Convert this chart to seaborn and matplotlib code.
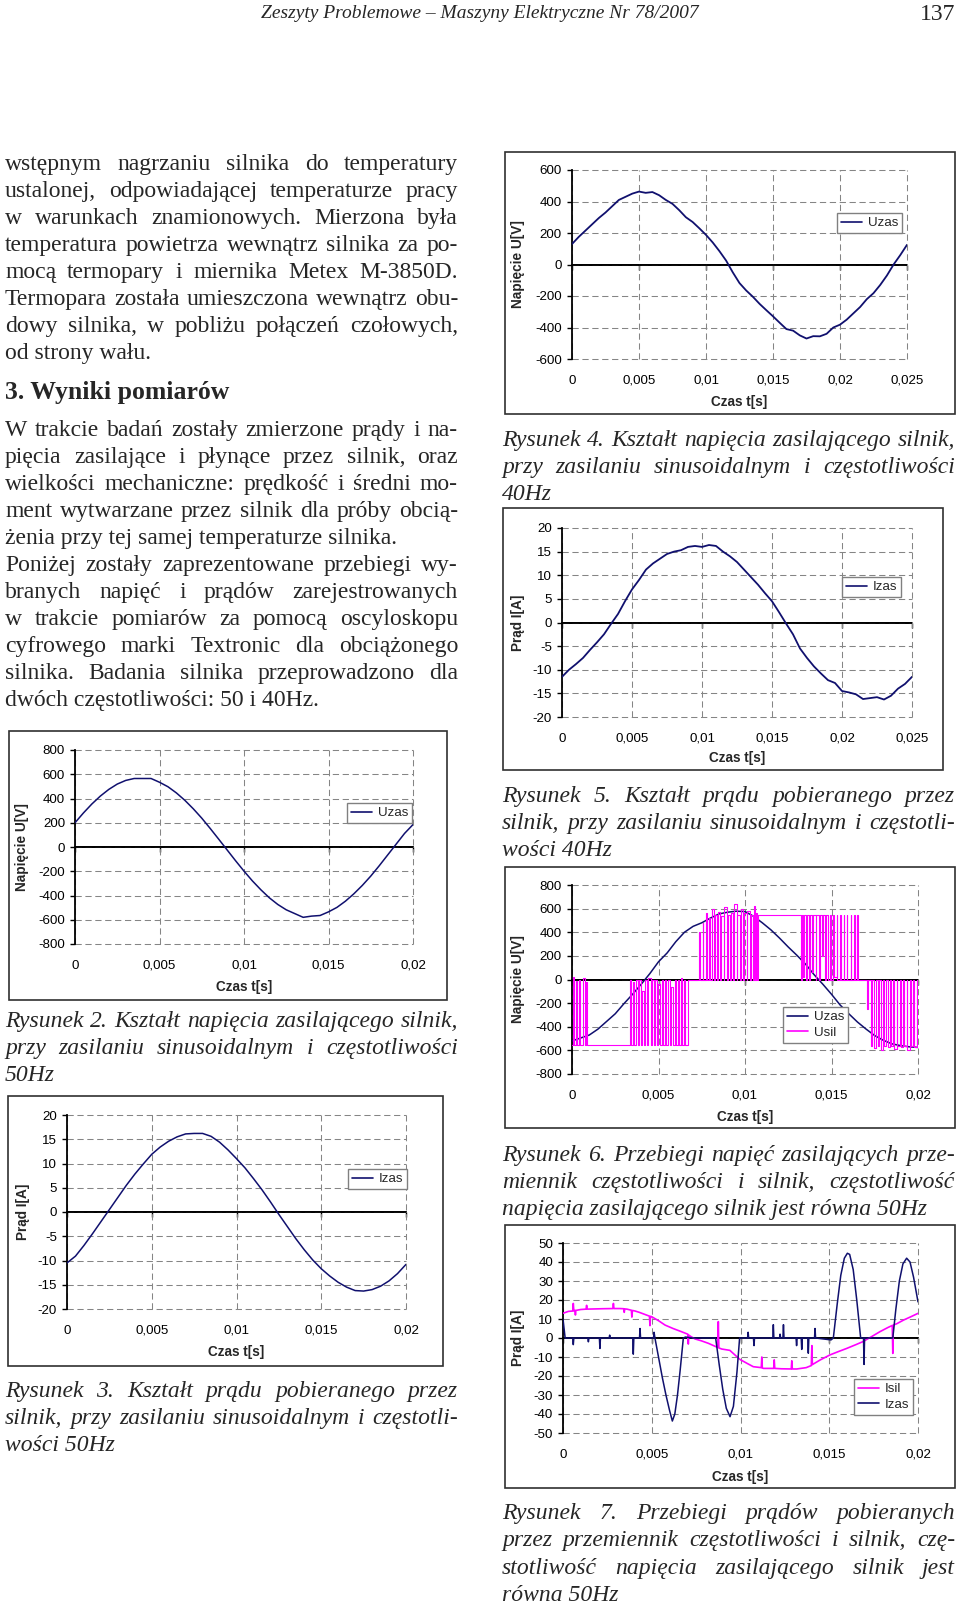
import numpy as np
import seaborn as sns
import matplotlib.pyplot as plt
from matplotlib.patches import Rectangle

sns.set_style("white")
plt.rcParams['font.family'] = ['Liberation Sans', 'DejaVu Sans']
SERIF = ['Liberation Serif', 'DejaVu Serif']

W, H = 960, 1604
NAVY = '#10106e'
MAGENTA = '#ff00ff'

# ---------- dane (czas w ms) ----------
t_50 = [0, 0.5, 1, 1.5, 2, 2.5, 3, 3.5, 4, 4.5, 5, 5.5, 6, 6.5, 7, 7.5, 8, 8.5, 9, 9.5,
        10, 10.5, 11, 11.5, 12, 12.5, 13, 13.5, 14, 14.5, 15, 15.5, 16, 16.5, 17, 17.5,
        18, 18.5, 19, 19.5, 20]
t_40 = t_50 + [20.5, 21, 21.5, 22, 22.5, 23, 23.5, 24, 24.5, 25]

uzas_50 = [200, 281, 355, 420, 475, 519, 549, 565, 565, 565, 534, 497, 446, 385, 315, 238,
           153, 65, -24, -113, -199, -280, -353, -419, -474, -518, -549, -580, -570, -565,
           -535, -498, -447, -386, -317, -240, -155, -66, 23, 112, 185]
izas_50 = [-10.5, -9.1, -6.9, -4.5, -2.0, 0.5, 3.0, 5.5, 7.8, 9.9, 11.9, 13.4, 14.6, 15.5,
           16.1, 16.2, 16.2, 15.6, 14.4, 12.8, 11.0, 9.1, 6.9, 4.6, 2.1, -0.5, -3.0, -5.5,
           -7.8, -9.9, -11.7, -13.2, -14.5, -15.5, -16.2, -16.3, -16.0, -15.3, -14.2,
           -12.7, -10.8]
uzas_40 = [130, 175, 215, 255, 295, 330, 370, 410, 430, 450, 463, 455, 460, 440, 410, 385,
           345, 300, 270, 230, 188, 140, 85, 25, -50, -118, -165, -205, -250, -290, -329,
           -370, -410, -420, -450, -470, -455, -456, -440, -400, -382, -350, -310, -270,
           -220, -182, -130, -70, 0, 60, 125]
izas_40 = [-11.5, -10.0, -8.8, -7.5, -5.8, -4.2, -2.5, -0.3, 1.8, 4.5, 7.0, 9.0, 11.2, 12.5,
           13.5, 14.5, 15.0, 15.3, 16.0, 16.2, 16.0, 16.4, 16.2, 15.0, 14.0, 12.8, 11.2,
           9.6, 8.0, 6.2, 4.5, 2.2, -0.2, -2.5, -5.5, -7.5, -9.3, -10.8, -12.2, -12.8,
           -14.5, -14.8, -15.2, -16.2, -16.0, -15.8, -16.3, -15.5, -14.0, -13.0, -11.5]

# rysunek 6
uzas_6 = [-520, -495, -470, -420, -355, -290, -205, -125, -40, 50, 150, 225, 320, 400, 450,
          480, 520, 555, 570, 578, 575, 535, 480, 420, 350, 275, 205, 130, 40, -40, -125,
          -216, -290, -360, -420, -475, -515, -545, -560, -570, -575]
USIL_NEG, USIL_POS = -555, 550
# chwile przełączeń w kolejnych paczkach impulsów (ms) i poziomy impulsów
usil_a = [0.06, 0.13, 0.24, 0.30, 0.42, 0.47, 0.66, 0.74, 0.80, 0.86]
usil_a_lvl = [20, -10, 0, 15, -20]
usil_c = [3.35, 3.41, 3.52, 3.60, 3.70, 3.79, 3.88, 3.98, 4.06, 4.17, 4.24, 4.36, 4.42,
          4.55, 4.61, 4.73, 4.80, 4.92, 4.99, 5.10, 5.18, 5.28, 5.37, 5.46, 5.56, 5.64,
          5.75, 5.82, 5.94, 6.00, 6.13, 6.18, 6.32, 6.37, 6.50, 6.55, 6.68]
usil_c_lvl = [0, -20, 0, 0, -100, 0, 10, 0, 0, -40, 0, 0, 0, -60, 0, 0, 10, 0, 0]
usil_e = [7.35, 7.40, 7.55, 7.60, 7.72, 7.80, 7.90, 8.00, 8.08, 8.19, 8.26, 8.38, 8.44,
          8.57, 8.62, 8.76, 8.81, 8.95, 8.99, 9.14, 9.17, 9.33, 9.36, 9.52, 9.55, 9.71,
          9.74, 9.90, 9.93, 10.09, 10.12, 10.28, 10.32, 10.47, 10.52, 10.60, 10.63, 10.72,
          10.75]
usil_e_lvl = [400, 480, 560, 520, 600, 550, 570, 540, 610, 550, 560, 640, 550, 600, 560,
              580, 550, 620, 560, 550]
usil_g = [13.22, 13.27, 13.38, 13.42, 13.55, 13.58, 13.72, 13.75, 13.90, 13.93, 14.08,
          14.12, 14.26, 14.31, 14.44, 14.50, 14.62, 14.70, 14.80, 14.90, 14.98, 15.10,
          15.16, 15.30, 15.34, 15.50, 15.53, 15.70, 15.72, 15.90, 15.92, 16.10, 16.12,
          16.30, 16.33, 16.50, 16.55]
usil_g_lvl = [0, 20, 0, 0, 60, 0, 0, 200, 0, 0, 0, 20, 0, 0, 0, 0, 0, 0, 0]
usil_i = [17.05, 17.10, 17.28, 17.33, 17.48, 17.55, 17.66, 17.75, 17.86, 17.96, 18.05,
          18.17, 18.24, 18.38, 18.43, 18.58, 18.62, 18.78, 18.81, 18.97, 19.00, 19.16,
          19.19, 19.35, 19.38, 19.54, 19.57, 19.73, 19.76, 19.92, 19.95]
usil_i_lvl = [-250, -560, -580, -560, -600, -560, -570, -560, -590, -560, -575, -560, -595,
              -560, -570, -560]

# rysunek 7
isil_7 = [(0.0, 13.0), (0.3, 14.0), (0.55, 14.2), (0.58, 18.2), (0.61, 14.3), (0.68, 14.5),
          (0.70, 12.1), (0.72, 14.5), (1.0, 15.0), (1.30, 15.2), (1.33, 17.2), (1.36, 15.2),
          (1.8, 15.3), (2.2, 15.4), (2.81, 15.5), (2.84, 18.2), (2.87, 15.5), (3.2, 15.5),
          (3.42, 15.4), (3.45, 13.5), (3.48, 15.3), (3.6, 15.2), (3.85, 14.6), (3.88, 11.0),
          (3.91, 14.5), (4.06, 14.2), (4.3, 13.5), (4.87, 11.5), (4.90, 6.5), (4.93, 11.4),
          (5.0, 11.2), (5.4, 9.0), (5.75, 6.8), (6.2, 5.0), (6.68, 3.3), (7.03, 2.0),
          (7.06, -3.2), (7.09, 1.5), (7.2, 0.8), (7.44, -0.5), (7.8, -1.5), (8.19, -2.8),
          (8.72, -5.0), (8.75, 8.6), (8.78, -5.2), (8.94, -5.8), (9.4, -6.5), (9.97, -11.3),
          (10.4, -13.5), (10.72, -15.1), (11.17, -15.6), (11.20, -10.0), (11.23, -15.8),
          (11.3, -16.0), (11.87, -16.0), (11.90, -11.5), (11.93, -16.0), (12.3, -16.2),
          (12.86, -16.3), (12.89, -12.0), (12.92, -16.3), (13.17, -16.3), (13.7, -15.6),
          (13.99, -14.5), (14.02, -4.0), (14.05, -14.0), (14.48, -11.6), (15.04, -8.9),
          (15.5, -7.2), (15.98, -5.5), (16.5, -3.5), (16.9, -1.9), (17.4, 0.8), (17.85, 3.3),
          (18.3, 5.5), (18.55, 6.6), (18.58, -8.1), (18.61, 6.8), (18.8, 7.5), (19.2, 9.5),
          (19.6, 11.2), (19.96, 12.8), (20.0, 13.0)]
izas_7 = [(0.0, 10), (0.12, 0), (0.55, 0), (0.58, -3.5), (0.61, 0), (1.40, 0), (1.43, -2),
          (1.46, 0), (2.05, 0), (2.08, -5.5), (2.11, 0), (2.60, 0), (2.63, 1.5), (2.66, 0),
          (3.93, 0), (3.96, -8.5), (3.99, 0), (4.31, 0), (4.34, 5), (4.37, 0), (5.10, 0),
          (5.13, 3), (5.18, 0), (5.40, -11), (5.60, -21), (5.80, -30), (6.00, -38),
          (6.16, -43.7), (6.30, -40), (6.45, -30), (6.60, -17), (6.78, 0), (6.90, 0.5),
          (7.30, 0), (8.00, 0), (8.60, 0), (8.80, -14), (9.00, -27), (9.20, -37),
          (9.41, -41.4), (9.60, -36), (9.80, -18), (9.95, 0), (10.40, 0), (10.43, 3),
          (10.46, 0), (10.73, 0), (10.76, -4), (10.79, 0), (11.82, 0), (11.85, 7),
          (11.88, 0), (12.20, 0), (12.23, 2), (12.26, 0), (12.39, 0), (12.42, 7), (12.45, 0),
          (13.13, 0), (13.16, -4), (13.19, 0), (13.42, 0), (13.45, -6), (13.48, 0),
          (13.79, 0), (13.82, -8), (13.85, 0), (14.17, 0), (14.20, 5), (14.23, 0),
          (15.10, -1), (15.23, 0), (15.45, 18), (15.65, 33), (15.85, 42), (16.02, 44.6),
          (16.15, 44), (16.35, 36), (16.55, 20), (16.77, 0), (16.93, 0), (16.96, -13.9),
          (16.99, 0), (17.40, 0), (18.20, 0), (18.58, 0), (18.75, 15), (18.95, 30),
          (19.15, 39), (19.36, 42), (19.55, 40), (19.75, 32), (20.0, 19)]

ticks_x50 = [0, 0.005, 0.01, 0.015, 0.02]
labels_x50 = ['0', '0,005', '0,01', '0,015', '0,02']
ticks_x40 = [0, 0.005, 0.01, 0.015, 0.02, 0.025]
labels_x40 = ['0', '0,005', '0,01', '0,015', '0,02', '0,025']
ticks_u800 = [-800, -600, -400, -200, 0, 200, 400, 600, 800]
ticks_u600 = [-600, -400, -200, 0, 200, 400, 600]
ticks_i20 = [-20, -15, -10, -5, 0, 5, 10, 15, 20]
ticks_i50 = [-50, -40, -30, -20, -10, 0, 10, 20, 30, 40, 50]

header = "Zeszyty Problemowe – Maszyny Elektryczne Nr 78/2007"
page_no = "137"
body1 = ["wstępnym nagrzaniu silnika do temperatury",
         "ustalonej, odpowiadającej temperaturze pracy",
         "w warunkach znamionowych. Mierzona była",
         "temperatura powietrza wewnątrz silnika za po-",
         "mocą termopary i miernika Metex M-3850D.",
         "Termopara została umieszczona wewnątrz obu-",
         "dowy silnika, w pobliżu połączeń czołowych,",
         "od strony wału."]
heading = "3. Wyniki pomiarów"
body2 = ["W trakcie badań zostały zmierzone prądy i na-",
         "pięcia zasilające i płynące przez silnik, oraz",
         "wielkości mechaniczne: prędkość i średni mo-",
         "ment wytwarzane przez silnik dla próby obcią-",
         "żenia przy tej samej temperaturze silnika."]
body3 = ["Poniżej zostały zaprezentowane przebiegi wy-",
         "branych napięć i prądów zarejestrowanych",
         "w trakcie pomiarów za pomocą oscyloskopu",
         "cyfrowego marki Textronic dla obciążonego",
         "silnika. Badania silnika przeprowadzono dla",
         "dwóch częstotliwości: 50 i 40Hz."]
cap2 = ["Rysunek 2. Kształt napięcia zasilającego silnik,",
        "przy zasilaniu sinusoidalnym i częstotliwości", "50Hz"]
cap3 = ["Rysunek 3. Kształt prądu pobieranego przez",
        "silnik, przy zasilaniu sinusoidalnym i częstotli-", "wości 50Hz"]
cap4 = ["Rysunek 4. Kształt napięcia zasilającego silnik,",
        "przy zasilaniu sinusoidalnym i częstotliwości", "40Hz"]
cap5 = ["Rysunek 5. Kształt prądu pobieranego przez",
        "silnik, przy zasilaniu sinusoidalnym i częstotli-", "wości 40Hz"]
cap6 = ["Rysunek 6. Przebiegi napięć zasilających prze-",
        "miennik częstotliwości i silnik, częstotliwość",
        "napięcia zasilającego silnik jest równa 50Hz"]
cap7 = ["Rysunek 7. Przebiegi prądów pobieranych",
        "przez przemiennik częstotliwości i silnik, czę-",
        "stotliwość napięcia zasilającego silnik jest", "równa 50Hz"]


def pwm(edges, base, levels):
    # przebieg schodkowy: z poziomu base na kolejny poziom z levels i z powrotem
    t, v = [], []
    cur = base
    for j, e in enumerate(edges):
        nxt = levels[j // 2] if j % 2 == 0 else base
        t += [e, e]
        v += [cur, nxt]
        cur = nxt
    return t, v


usil_t, usil_v = [0.0], [USIL_NEG]
for edges, base, lvls in [(usil_a, USIL_NEG, usil_a_lvl), (usil_c, USIL_NEG, usil_c_lvl),
                          (usil_e, 0, usil_e_lvl), (usil_g, USIL_POS, usil_g_lvl),
                          (usil_i, 0, usil_i_lvl)]:
    tt, vv = pwm(edges, base, lvls)
    usil_t += tt
    usil_v += vv
usil_t.append(20.0)
usil_v.append(usil_v[-1])

fig = plt.figure(figsize=(9.6, 16.04), dpi=100)
fig.patch.set_facecolor('white')
renderer = fig.canvas.get_renderer()


def fx(x):
    return x / W


def fy(y):
    return 1 - y / H


def chart(frame, plot, yticks, xticks, xlabels, ylabel, series, legend_at, ylabel_x, xlabel_y):
    x0, y0, x1, y1 = frame
    fig.add_artist(Rectangle((fx(x0), fy(y1)), fx(x1) - fx(x0), fy(y0) - fy(y1),
                             transform=fig.transFigure, fill=False, ec='#303030', lw=1.2))
    px0, py0, px1, py1 = plot
    ax = fig.add_axes([fx(px0), fy(py1), fx(px1) - fx(px0), fy(py0) - fy(py1)])
    for name, t, v, color, lw in series:
        sns.lineplot(x=np.array(t) / 1000.0, y=v, ax=ax, color=color, lw=lw, label=name,
                     estimator=None, sort=False, zorder=3)
    ax.set_xlim(xticks[0], xticks[-1])
    ax.set_ylim(yticks[0], yticks[-1])
    ax.set_xticks(xticks)
    ax.set_xticklabels(xlabels)
    ax.set_yticks(yticks)
    ax.set_yticklabels([str(v) for v in yticks])
    ax.set_xlabel('')
    ax.set_ylabel('')
    ax.grid(True, color='#858585', ls=(0, (6, 3.5)), lw=0.75)
    for gl in ax.get_xgridlines() + ax.get_ygridlines():
        gl.set_clip_on(False)
    for s in ['top', 'right', 'bottom']:
        ax.spines[s].set_visible(False)
    ax.spines['left'].set_color('black')
    ax.spines['left'].set_linewidth(1.3)
    ax.axhline(0, color='black', lw=1.3, zorder=2)
    ax.tick_params(axis='y', left=True, direction='out', length=3.6, width=1, pad=3.6,
                   labelsize=9.6, colors='black')
    ax.tick_params(axis='x', bottom=True, length=0, pad=11.5, labelsize=9.6, colors='black')
    sec = ax.secondary_xaxis(0.4999)
    sec.set_xticks(xticks)
    sec.set_xticklabels([])
    sec.tick_params(direction='out', length=3.6, width=1, colors='black')
    for sp in sec.spines.values():
        sp.set_color('black')
        sp.set_linewidth(1.3)
    h, l = ax.get_legend_handles_labels()
    leg = ax.legend(h, l, loc='upper left', bbox_to_anchor=(fx(legend_at[0]), fy(legend_at[1])),
                    bbox_transform=fig.transFigure, fontsize=9.6, frameon=True, fancybox=False,
                    edgecolor='#808080', framealpha=1, borderpad=0.3, borderaxespad=0,
                    handlelength=1.6, handletextpad=0.4, labelspacing=0.25)
    leg.get_frame().set_linewidth(1.0)
    for ln in leg.get_lines():
        ln.set_linewidth(1.2)
    fig.text(fx(ylabel_x), fy((py0 + py1) / 2), ylabel, rotation=90, ha='center', va='center',
             fontsize=9.8, fontweight='bold')
    fig.text(fx((px0 + px1) / 2), fy(xlabel_y), 'Czas t[s]', ha='center', va='center',
             fontsize=9.8, fontweight='bold')
    return ax


def jline(text, x0, x1, y, size, style='normal', weight='normal', justify=True):
    yb = fy(y + 6)
    if not justify:
        fig.text(fx(x0), yb, text, fontsize=size, family=SERIF, style=style,
                 fontweight=weight, va='baseline')
        return
    words = text.split(' ')
    objs = [fig.text(0, yb, w, fontsize=size, family=SERIF, style=style,
                     fontweight=weight, va='baseline') for w in words]
    widths = [o.get_window_extent(renderer).width for o in objs]
    gap = (x1 - x0 - sum(widths)) / max(len(words) - 1, 1)
    x = x0
    for o, w in zip(objs, widths):
        o.set_x(fx(x))
        x += w + gap


def paragraph(lines, x0, x1, y0, step, size=17, style='normal'):
    for i, line in enumerate(lines):
        jline(line, x0, x1, y0 + i * step, size, style, justify=(i < len(lines) - 1))


# nagłówek strony
fig.text(fx(480), fy(13), header, ha='center', va='center', fontsize=14, style='italic',
         family=SERIF)
fig.text(fx(955), fy(14), page_no, ha='right', va='center', fontsize=17, family=SERIF)

# tekst lewej kolumny
paragraph(body1, 5, 458, 164, 27)
jline(heading, 5, 458, 393, 18.5, weight='bold', justify=False)
paragraph(body2, 5, 458, 430, 27)
paragraph(body3, 5, 458, 565, 27)

# podpisy
paragraph(cap2, 5, 458, 1021, 27, style='italic')
paragraph(cap3, 5, 458, 1391, 27, style='italic')
paragraph(cap4, 502, 955, 440, 27, style='italic')
paragraph(cap5, 502, 955, 796, 27, style='italic')
paragraph(cap6, 502, 955, 1155, 27, style='italic')
paragraph(cap7, 502, 955, 1513, 27.3, style='italic')

# wykresy
chart((9, 731, 447, 1000), (75, 750, 413, 944), ticks_u800, ticks_x50, labels_x50,
      'Napięcie U[V]', [('Uzas', t_50, uzas_50, NAVY, 1.1)], (347, 803), 22, 987)
chart((8, 1096, 443, 1366), (67, 1115, 406, 1309), ticks_i20, ticks_x50, labels_x50,
      'Prąd I[A]', [('Izas', t_50, izas_50, NAVY, 1.1)], (348, 1169), 23, 1352)
chart((505, 152, 955, 414), (572, 170, 907, 359), ticks_u600, ticks_x40, labels_x40,
      'Napięcie U[V]', [('Uzas', t_40, uzas_40, NAVY, 1.3)], (837, 213), 518, 402)
chart((503, 508, 943, 770), (562, 528, 912, 717), ticks_i20, ticks_x40, labels_x40,
      'Prąd I[A]', [('Izas', t_40, izas_40, NAVY, 1.3)], (842, 577), 518, 758)
chart((505, 867, 955, 1128), (572, 885, 918, 1074), ticks_u800, ticks_x50, labels_x50,
      'Napięcie U[V]', [('Uzas', t_50, uzas_6, NAVY, 1.1),
                        ('Usil', usil_t, usil_v, MAGENTA, 0.8)],
      (783, 1007), 518, 1117)
isil_t, isil_v = zip(*isil_7)
izas_t, izas_v = zip(*izas_7)
chart((505, 1225, 955, 1488), (563, 1243, 918, 1433), ticks_i50, ticks_x50, labels_x50,
      'Prąd I[A]', [('Isil', isil_t, isil_v, MAGENTA, 1.2), ('Izas', izas_t, izas_v, NAVY, 1.1)],
      (854, 1379), 518, 1477)

fig.savefig('out.png', dpi=100, facecolor='white')
